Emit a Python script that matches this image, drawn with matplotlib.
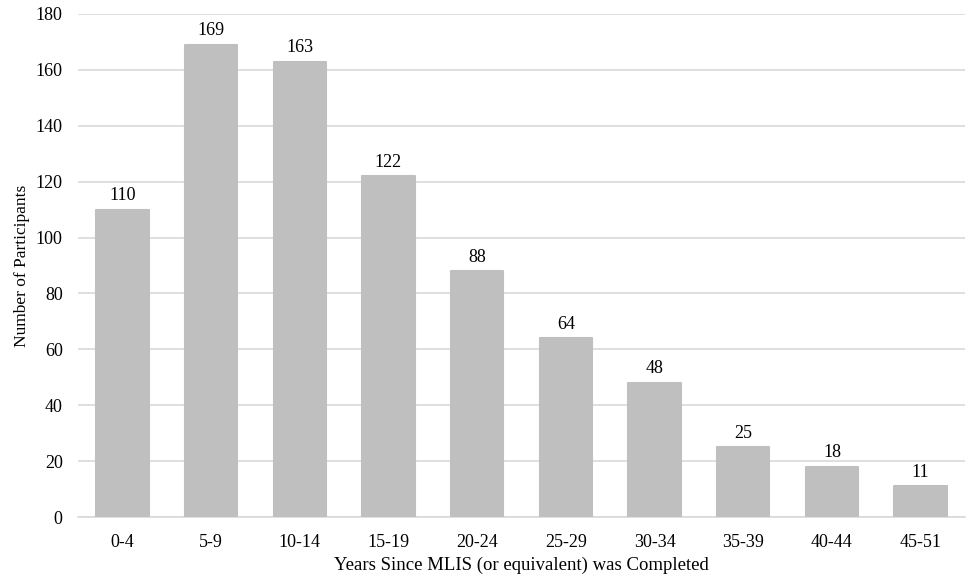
import matplotlib
matplotlib.use("Agg")
import matplotlib.pyplot as plt

categories = ["0-4", "5-9", "10-14", "15-19", "20-24", "25-29", "30-34", "35-39", "40-44", "45-51"]
values = [110, 169, 163, 122, 88, 64, 48, 25, 18, 11]
yticks = [0, 20, 40, 60, 80, 100, 120, 140, 160, 180]

plt.rcParams['font.family'] = ['Liberation Serif', 'DejaVu Serif']

fig = plt.figure(figsize=(9.66, 5.79), dpi=100)
ax = fig.add_axes([78/966, 1-517/579, (965-78)/966, (517-14)/579])

x = range(len(categories))
bars = ax.bar(x, values, width=0.59, color='#bfbfbf', edgecolor='#bfbfbf',
              linewidth=1.5, joinstyle='round', zorder=3)
for xi, v in zip(x, values):
    ax.annotate(str(v), (xi, v), xytext=(0, 4), textcoords='offset points',
                ha='center', va='bottom', fontsize=13, color='#000000')

ax.set_xlim(-0.5, len(categories) - 0.5)
ax.set_ylim(0, 180)
ax.set_yticks(yticks)
ax.set_xticks(list(x))
ax.set_xticklabels(categories)
ax.yaxis.grid(True, color='#d9d9d9', linewidth=1.2, zorder=0)
ax.set_axisbelow(True)
for s in ['top', 'right', 'left']:
    ax.spines[s].set_visible(False)
ax.spines['bottom'].set_color('#d9d9d9')
ax.spines['bottom'].set_linewidth(1.2)
ax.tick_params(axis='both', length=0, labelsize=13, colors='#000000')
ax.tick_params(axis='y', pad=11)
ax.tick_params(axis='x', pad=12)
ax.set_ylabel('Number of Participants', fontsize=12.5, labelpad=4)
ax.set_xlabel('Years Since MLIS (or equivalent) was Completed', fontsize=13.5, labelpad=4)

fig.savefig('out.png', dpi=100)
